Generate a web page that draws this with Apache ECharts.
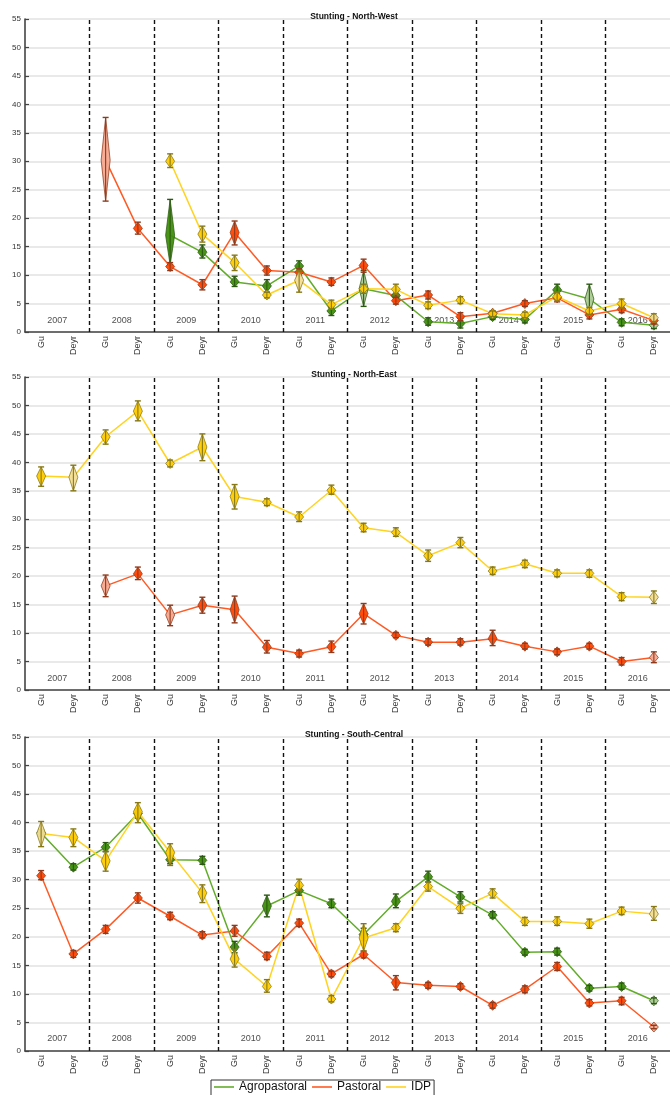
<!DOCTYPE html>
<html><head><meta charset="utf-8">
<script src="https://cdn.jsdelivr.net/npm/echarts@6/dist/echarts.min.js"></script>
<style>html,body{margin:0;padding:0;background:#fff}#c{width:670px;height:1095px}</style>
</head><body><div id="c"></div>
<script>
// ---------- DATA ----------
const years = ['2007','2008','2009','2010','2011','2012','2013','2014','2015','2016'];
const seasons = ['Gu','Deyr'];
const categories = ['Gu','Deyr','Gu','Deyr','Gu','Deyr','Gu','Deyr','Gu','Deyr','Gu','Deyr','Gu','Deyr','Gu','Deyr','Gu','Deyr','Gu','Deyr'];
const yTicks = [0,5,10,15,20,25,30,35,40,45,50,55];
const panelTitles = ['Stunting - North-West','Stunting - North-East','Stunting - South-Central'];
const seriesNames = ['Agropastoral','Pastoral','IDP'];

// North-West
const nwAgro = [null,null,null,null,17.0,14.0,8.8,8.1,11.6,3.7,7.6,6.4,1.8,1.5,2.7,2.2,7.4,5.8,1.7,1.2];
const nwAgroErr = [null,null,null,null,[11.8,23.3],[13.0,15.3],[8.0,9.8],[7.0,9.2],[10.6,12.5],[2.9,4.4],[4.5,10.8],[5.4,7.4],[1.2,2.5],[0.7,2.4],[2.2,3.3],[1.6,2.9],[6.4,8.4],[3.0,8.4],[1.1,2.3],[0.6,1.9]];
const nwAgroFaded = [10,17,19];
const nwPast = [null,null,30.2,18.2,11.5,8.3,17.5,10.8,10.5,8.8,11.7,5.5,6.5,2.7,3.3,5.0,6.0,3.0,4.0,2.0];
const nwPastErr = [null,null,[23.0,37.7],[17.2,19.3],[10.8,12.2],[7.4,9.2],[15.3,19.5],[10.0,11.6],[9.9,11.1],[8.2,9.5],[10.5,12.8],[4.9,6.1],[5.8,7.2],[2.0,3.4],[2.9,3.7],[4.5,5.5],[5.3,6.7],[2.3,3.7],[3.4,4.6],[1.4,2.6]];
const nwPastFaded = [2];
const nwIdp = [null,null,null,null,30.0,17.2,12.2,6.5,9.1,4.8,7.6,7.5,4.7,5.6,3.2,3.0,6.2,3.7,5.0,2.5];
const nwIdpErr = [null,null,null,null,[28.9,31.3],[15.8,18.6],[10.8,13.5],[6.0,7.0],[7.0,10.8],[4.0,5.6],[6.8,8.4],[6.6,8.4],[4.1,5.3],[5.0,6.2],[2.7,3.7],[2.5,3.5],[5.4,7.0],[3.1,4.3],[4.2,5.8],[1.8,3.2]];
const nwIdpFaded = [8,19];

// North-East
const neAgro = [];
const neAgroErr = [];
const neAgroFaded = [];
const nePast = [null,null,18.3,20.4,13.2,14.9,14.1,7.5,6.4,7.6,13.4,9.6,8.4,8.4,9.0,7.7,6.7,7.7,5.0,5.7];
const nePastErr = [null,null,[16.4,20.2],[19.4,21.6],[11.3,14.9],[13.5,16.3],[11.8,16.5],[6.5,8.7],[5.8,7.0],[6.6,8.6],[11.6,15.2],[9.2,10.1],[7.9,9.0],[7.9,9.0],[7.8,10.5],[7.2,8.2],[6.2,7.2],[7.2,8.2],[4.4,5.7],[4.8,6.7]];
const nePastFaded = [2,4,19];
const neIdp = [37.6,37.4,44.5,49.0,39.8,42.7,34.0,33.0,30.4,35.1,28.5,27.7,23.6,25.9,20.9,22.2,20.5,20.5,16.4,16.3];
const neIdpErr = [[35.8,39.2],[35.0,39.5],[43.2,45.7],[47.3,50.8],[39.2,40.4],[40.3,45.0],[31.8,36.1],[32.4,33.6],[29.6,31.3],[34.4,36.0],[27.8,29.3],[27.0,28.5],[22.6,24.6],[25.0,26.8],[20.3,21.6],[21.5,22.8],[19.9,21.1],[19.8,21.1],[15.7,17.1],[15.2,17.4]];
const neIdpFaded = [1,19];

// South-Central
const scAgro = [38.2,32.2,35.7,41.6,33.5,33.4,18.2,25.4,28.1,25.8,20.4,26.2,30.5,27.0,23.8,17.3,17.4,11.0,11.3,8.8];
const scAgroErr = [[37.6,38.8],[31.7,32.8],[34.9,36.5],[40.8,42.4],[32.8,34.2],[32.7,34.1],[17.2,19.2],[23.5,27.3],[27.3,28.9],[25.1,26.6],[19.3,21.5],[25.1,27.5],[29.6,31.5],[26.1,27.9],[23.3,24.4],[16.8,17.8],[16.8,18.0],[10.5,11.5],[10.8,11.9],[8.3,9.3]];
const scAgroFaded = [19];
const scPast = [30.7,17.0,21.3,26.8,23.6,20.3,21.0,16.6,22.4,13.5,16.9,12.0,11.5,11.3,8.0,10.8,14.8,8.4,8.8,4.2];
const scPastErr = [[30.0,31.6],[16.4,17.6],[20.6,22.0],[25.9,27.7],[23.0,24.3],[19.8,20.9],[20.1,22.0],[16.0,17.3],[21.8,23.1],[13.0,14.0],[16.3,17.5],[10.7,13.2],[11.0,12.0],[10.8,11.8],[7.5,8.5],[10.2,11.4],[14.1,15.5],[7.9,9.0],[8.1,9.4],[3.9,4.5]];
const scPastFaded = [19];
const scIdp = [38.1,37.4,33.3,41.9,34.8,27.7,16.1,11.3,29.0,9.1,19.8,21.6,28.8,25.0,27.6,22.7,22.7,22.3,24.5,24.0];
const scIdpErr = [[35.8,40.2],[35.8,38.9],[31.5,35.0],[40.0,43.5],[32.5,36.3],[26.0,29.1],[14.7,17.8],[10.3,12.5],[28.1,30.1],[8.6,9.7],[17.5,22.3],[20.9,22.3],[28.0,29.6],[24.1,25.8],[26.8,28.4],[22.0,23.4],[22.0,23.5],[21.5,23.1],[23.9,25.2],[22.9,25.3]];
const scIdpFaded = [0,19];

// ---------- STYLE ----------
const palette = {
  Agropastoral: {line:'#62ac2a', fill:'#3f8f0c', faded:'#abcb95', edge:'#2c5912'},
  Pastoral:     {line:'#ff5a24', fill:'#ff4500', faded:'#f5a88f', edge:'#8f3a1c'},
  IDP:          {line:'#ffd320', fill:'#ffcb00', faded:'#f3de98', edge:'#877815'}
};
const FONT = 'Liberation Sans, Arial, sans-serif';

const panels = [
  {title: panelTitles[0], groups: [[nwAgro,nwAgroErr,nwAgroFaded],[nwPast,nwPastErr,nwPastFaded],[nwIdp,nwIdpErr,nwIdpFaded]], top: 19, height: 313},
  {title: panelTitles[1], groups: [[neAgro,neAgroErr,neAgroFaded],[nePast,nePastErr,nePastFaded],[neIdp,neIdpErr,neIdpFaded]], top: 377, height: 313},
  {title: panelTitles[2], groups: [[scAgro,scAgroErr,scAgroFaded],[scPast,scPastErr,scPastFaded],[scIdp,scIdpErr,scIdpFaded]], top: 737, height: 314}
];

function makeRender(col) {
  return function (params, api) {
    const x = api.value(0), v = api.value(1), lo = api.value(2), hi = api.value(3), f = api.value(4);
    const c = api.coord([x, v]);
    const cl = api.coord([x, lo]);
    const ch = api.coord([x, hi]);
    const hw = 4.5;
    const top = Math.min(ch[1], c[1] - 5);
    const bot = Math.max(cl[1], c[1] + 5);
    const edge = col.edge;
    return {
      type: 'group',
      children: [
        {type: 'polygon', shape: {points: [[c[0], top], [c[0] + hw, c[1]], [c[0], bot], [c[0] - hw, c[1]]]},
         style: {fill: f ? col.faded : col.fill, stroke: edge, lineWidth: 0.8, opacity: 0.95}},
        {type: 'line', shape: {x1: c[0], y1: ch[1], x2: c[0], y2: cl[1]}, style: {stroke: edge, lineWidth: 1.1}},
        {type: 'line', shape: {x1: c[0] - 3, y1: ch[1], x2: c[0] + 3, y2: ch[1]}, style: {stroke: edge, lineWidth: 1.4}},
        {type: 'line', shape: {x1: c[0] - 3, y1: cl[1], x2: c[0] + 3, y2: cl[1]}, style: {stroke: edge, lineWidth: 1.4}}
      ]
    };
  };
}

const grid = [], xAxis = [], yAxis = [], title = [], series = [];
panels.forEach((p, i) => {
  grid.push({left: 25, width: 648, top: p.top, height: p.height});
  title.push({text: p.title, left: 25 + 324, top: p.top - 12, textAlign: 'center',
    textStyle: {fontSize: 8.5, fontWeight: 'bold', color: '#111', fontFamily: FONT}});
  xAxis.push({type: 'category', gridIndex: i, data: categories, boundaryGap: true,
    axisLine: {lineStyle: {color: '#444', width: 1.6}},
    axisTick: {inside: true, alignWithLabel: true, length: 4, lineStyle: {color: '#444', width: 1.2}},
    axisLabel: {rotate: 90, fontSize: 9, color: '#333', margin: 4, fontFamily: FONT, interval: 0},
    splitLine: {show: false}});
  xAxis.push({type: 'value', gridIndex: i, min: 0, max: 20, show: false, splitLine: {show: false}});
  yAxis.push({type: 'value', gridIndex: i, min: yTicks[0], max: yTicks[yTicks.length - 1], interval: 5,
    axisLine: {show: true, lineStyle: {color: '#444', width: 1.6}},
    axisTick: {show: true, inside: true, length: 4, lineStyle: {color: '#444', width: 1.2}},
    axisLabel: {fontSize: 8, color: '#333', margin: 4, fontFamily: FONT},
    splitLine: {show: true, lineStyle: {color: '#e2e2e2', width: 1.6}}});

  // year separators & labels
  series.push({type: 'scatter', xAxisIndex: 2 * i + 1, yAxisIndex: i, silent: true, z: 1,
    symbolSize: 1, itemStyle: {color: 'rgba(0,0,0,0)'},
    data: years.map((y, k) => ({value: [2 * k + 1, 2.1], name: y})),
    label: {show: true, position: 'inside', formatter: '{b}', fontSize: 9, color: '#222', fontFamily: FONT},
    markLine: {silent: true, symbol: 'none', label: {show: false},
      lineStyle: {color: '#111', type: [4, 3], width: 1.4},
      data: years.slice(1).map((y, k) => ({xAxis: 2 * (k + 1)}))}
  });

  p.groups.forEach((g, gi) => {
    const name = seriesNames[gi];
    const col = palette[name];
    const vals = g[0];
    if (!vals.length) return;
    series.push({type: 'line', name: name, xAxisIndex: 2 * i, yAxisIndex: i, data: vals,
      showSymbol: false, silent: true, z: 2, color: col.line,
      lineStyle: {color: col.line, width: 1.5}});
  });
  p.groups.forEach((g, gi) => {
    const name = seriesNames[gi];
    const col = palette[name];
    const [vals, errs, faded] = g;
    const data = [];
    vals.forEach((v, k) => { if (v != null) data.push([k, v, errs[k][0], errs[k][1], faded.includes(k) ? 1 : 0]); });
    if (!data.length) return;
    series.push({type: 'custom', name: name + ' CI', xAxisIndex: 2 * i, yAxisIndex: i, z: 3, silent: true,
      encode: {x: 0, y: 1}, renderItem: makeRender(col), data: data});
  });
});

const chart = echarts.init(document.getElementById('c'), null, {renderer: 'canvas'});
chart.setOption({
  animation: false,
  backgroundColor: '#fff',
  title: title,
  grid: grid,
  xAxis: xAxis,
  yAxis: yAxis,
  legend: {
    data: seriesNames, left: 211, top: 1080, orient: 'horizontal',
    icon: 'rect', itemWidth: 20, itemHeight: 1.6, itemGap: 5,
    borderColor: '#333', borderWidth: 1, padding: [1, 3, 4, 3],
    textStyle: {fontSize: 12, color: '#111', fontFamily: FONT}
  },
  series: series
});
</script></body></html>
